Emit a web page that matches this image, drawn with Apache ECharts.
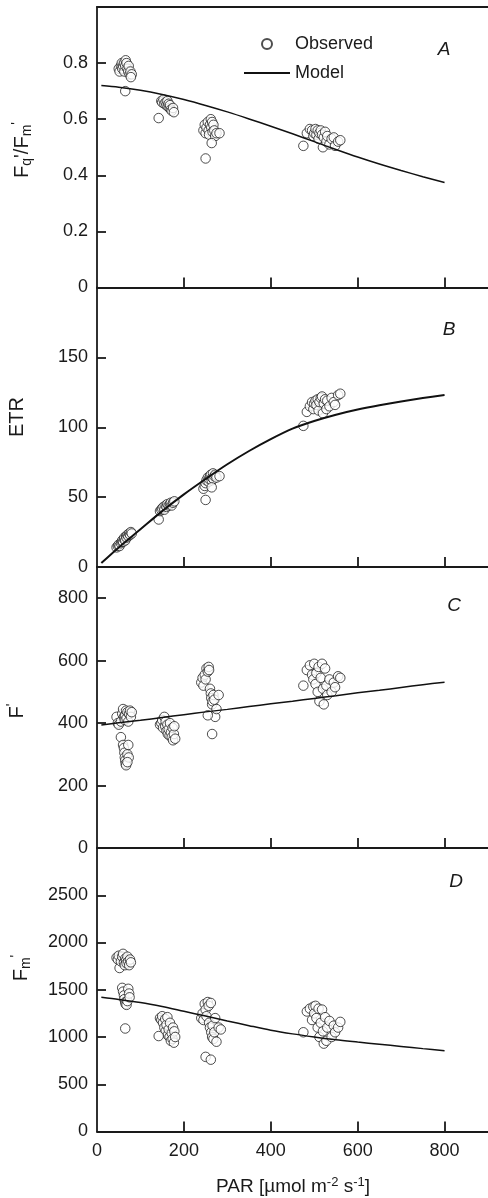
<!DOCTYPE html>
<html><head><meta charset="utf-8">
<script src="https://cdn.jsdelivr.net/npm/echarts@6/dist/echarts.min.js"></script>
<style>html,body{margin:0;padding:0;background:#fff}#c{width:488px;height:1198px}</style>
</head><body><div id="c"></div>
<script>
// ---------- data ----------
const parTickLabels = [0, 200, 400, 600, 800];
const parTicks = [200, 400, 600, 800];

const yLabelsA = [0, 0.2, 0.4, 0.6, 0.8];
const yLabelsB = [0, 50, 100, 150];
const yLabelsC = [0, 200, 400, 600, 800];
const yLabelsD = [0, 500, 1000, 1500, 2000, 2500];

const modelPar = [10, 50, 100, 150, 200, 250, 300, 350, 400, 450, 500, 550, 600, 650, 700, 750, 800];
const modelA = [0.72, 0.714, 0.703, 0.688, 0.67, 0.649, 0.626, 0.601, 0.575, 0.548, 0.52, 0.492, 0.465, 0.44, 0.417, 0.395, 0.374];
const modelB = [2.8, 14, 27, 40, 52, 63, 73.5, 83, 91.5, 99, 104.5, 109, 112.7, 115.8, 118.5, 120.9, 123];
const modelC = [394, 401, 409, 418, 427, 436, 444, 453, 462, 470, 479, 488, 497, 505, 514, 523, 531];
const modelD = [1420, 1398, 1365, 1322, 1272, 1222, 1170, 1120, 1072, 1033, 1000, 970, 946, 923, 900, 877, 855];

const obsA = [
  [50,0.78],[52,0.77],[55,0.79],[57,0.80],[58,0.78],[60,0.79],[62,0.80],[63,0.77],[65,0.79],[66,0.81],
  [68,0.80],[70,0.78],[72,0.77],[73,0.79],[75,0.76],[77,0.77],[80,0.76],[78,0.75],[65,0.70],
  [148,0.665],[150,0.66],[153,0.67],[155,0.655],[158,0.66],[160,0.65],[162,0.665],[163,0.645],[165,0.655],
  [167,0.64],[168,0.65],[170,0.635],[172,0.63],[175,0.64],[177,0.625],[142,0.604],
  [245,0.56],[248,0.58],[250,0.55],[252,0.57],[255,0.59],[257,0.56],[258,0.545],[260,0.58],[262,0.60],
  [263,0.57],[265,0.59],[266,0.555],[268,0.58],[270,0.56],[272,0.54],[275,0.55],[282,0.55],[264,0.515],[250,0.46],
  [475,0.505],[483,0.55],[490,0.565],[495,0.56],[498,0.54],[500,0.55],[503,0.565],[505,0.545],[508,0.56],
  [510,0.53],[512,0.55],[515,0.56],[518,0.545],[520,0.50],[522,0.535],[525,0.555],[528,0.52],[530,0.54],
  [535,0.51],[540,0.53],[545,0.535],[548,0.505],[555,0.52],[560,0.525]
];
const obsB = [
  [45,14],[48,15],[50,16],[52,15],[55,17],[57,18],[58,19],[60,18],[62,20],[63,21],[65,19],[67,22],
  [68,21],[70,23],[72,22],[74,24],[76,23],[78,25],[80,24],
  [142,34],[145,40],[148,41],[150,42],[153,43],[155,41],[158,44],[160,43],[162,45],[165,44],[168,45],
  [170,46],[172,44],[175,46],[178,47],
  [245,56],[248,58],[250,60],[252,62],[255,64],[257,61],[258,63],[260,65],[262,66],[264,62],[265,64],
  [267,67],[268,63],[270,65],[272,66],[275,64],[282,65],[264,57],[250,48],
  [475,101],[483,111],[490,115],[495,118],[498,113],[500,117],[503,119],[505,116],[508,120],[510,112],
  [512,118],[515,121],[518,122],[520,110],[522,117],[525,120],[528,113],[530,119],[535,115],[540,121],
  [545,118],[548,116],[555,123],[560,124]
];
const obsC = [
  [45,420],[48,400],[50,395],[55,405],[58,430],[60,445],[62,420],[64,410],[65,425],[67,440],[68,415],
  [70,435],[72,405],[74,430],[76,440],[78,420],[80,435],
  [55,355],[60,330],[62,320],[63,305],[64,290],[65,280],[66,270],[67,265],[70,300],[72,330],[73,290],[70,275],
  [145,395],[148,400],[150,410],[152,385],[155,420],[157,390],[158,405],[160,375],[162,395],[163,365],
  [165,380],[167,360],[168,400],[170,370],[172,355],[174,385],[175,345],[177,365],[178,390],[180,350],
  [240,530],[243,545],[245,520],[248,555],[250,540],[252,575],[255,565],[257,580],[258,570],[260,510],
  [262,495],[263,480],[265,460],[266,470],[268,490],[270,475],[272,420],[255,425],[275,445],[280,490],[265,365],
  [475,520],[483,570],[490,585],[495,555],[498,540],[500,590],[503,525],[505,560],[508,500],[510,580],
  [512,470],[515,545],[518,590],[520,510],[522,460],[525,575],[528,520],[530,490],[535,540],[540,500],
  [545,530],[548,515],[555,550],[560,545]
];
const obsD = [
  [45,1840],[48,1820],[50,1860],[52,1730],[55,1800],[58,1850],[60,1880],[62,1790],[64,1760],[65,1830],
  [67,1810],[68,1780],[70,1850],[72,1800],[74,1760],[76,1820],[78,1790],
  [58,1520],[60,1480],[62,1440],[63,1400],[65,1370],[66,1350],[68,1340],[70,1380],[72,1510],[74,1460],[75,1420],[65,1090],
  [145,1200],[148,1180],[150,1220],[152,1150],[155,1100],[157,1190],[158,1060],[160,1130],[162,1210],[163,1020],
  [165,1080],[167,1000],[168,1150],[170,960],[172,1040],[174,980],[175,1100],[177,940],[178,1060],[180,1000],[142,1010],
  [240,1200],[243,1250],[245,1180],[248,1350],[250,1290],[252,1220],[255,1370],[257,1330],[258,1150],[260,1100],
  [262,1360],[263,1050],[265,1000],[266,1120],[268,980],[270,1050],[272,1200],[275,950],[280,1100],[285,1080],
  [250,790],[262,760],
  [475,1050],[483,1270],[490,1300],[495,1180],[498,1320],[500,1250],[503,1330],[505,1200],[508,1100],[510,1300],
  [512,1000],[515,1150],[518,1290],[520,1060],[522,930],[525,1210],[528,960],[530,1100],[535,1170],[540,1000],
  [545,1120],[548,1050],[555,1100],[560,1160]
];

// ---------- chart ----------
const FF = '"Liberation Sans", Arial, Helvetica, sans-serif';
const C = '#1a1a1a';
const chart = echarts.init(document.getElementById('c'), null, {renderer: 'canvas'});

const panels = [
  {top: 7, height: 280.5, max: 1, labels: yLabelsA, obs: obsA, model: modelA, fmt: v => v === 0 ? '0' : v.toFixed(1), lw: 1.5},
  {top: 287.5, height: 279.5, max: 200, labels: yLabelsB, obs: obsB, model: modelB, fmt: v => String(v), lw: 2},
  {top: 567, height: 281, max: 900, labels: yLabelsC, obs: obsC, model: modelC, fmt: v => String(v), lw: 1.5},
  {top: 848, height: 283.5, max: 3000, labels: yLabelsD, obs: obsD, model: modelD, fmt: v => String(v), lw: 1.5}
];

const axisLine = {show: true, onZero: false, lineStyle: {color: C, width: 1.8}};
const grid = [], xAxis = [], yAxis = [], series = [];
panels.forEach((p, i) => {
  grid.push({left: 97, top: p.top, width: 395, height: p.height});
  xAxis.push({
    gridIndex: i, type: 'value', min: 0, max: 900, position: 'bottom',
    axisLine: axisLine,
    axisTick: {show: true, inside: true, length: 10, customValues: parTicks, lineStyle: {color: C, width: 1.8}},
    axisLabel: {show: i === 3, customValues: parTickLabels, margin: 11, fontSize: 18, color: C, fontFamily: FF},
    splitLine: {show: false}
  });
  yAxis.push({
    gridIndex: i, type: 'value', min: 0, max: p.max,
    axisLine: axisLine,
    axisTick: {show: true, inside: true, length: 9, customValues: p.labels.filter(v => v !== 0), lineStyle: {color: C, width: 1.8}},
    axisLabel: {customValues: p.labels, margin: 9, fontSize: 18, color: C, fontFamily: FF, formatter: p.fmt},
    splitLine: {show: false}
  });
  series.push({
    name: 'Observed', type: 'scatter', xAxisIndex: i, yAxisIndex: i,
    symbol: 'circle', symbolSize: 9.5,
    itemStyle: {color: '#fff', borderColor: '#222', borderWidth: 1},
    data: p.obs, z: 2, silent: true
  });
  series.push({
    name: 'Model', type: 'line', xAxisIndex: i, yAxisIndex: i,
    symbol: 'none', showSymbol: false, smooth: 0.3,
    lineStyle: {color: '#111', width: p.lw},
    itemStyle: {color: '#111'},
    data: modelPar.map((x, j) => [x, p.model[j]]), z: 3, silent: true
  });
});
// top border of first panel
xAxis.push({gridIndex: 0, type: 'value', min: 0, max: 900, position: 'top',
  axisLine: axisLine, axisTick: {show: false}, axisLabel: {show: false}, splitLine: {show: false}});

function makeRich(fs, ss) {
  return {
    b: {fontSize: fs, fontFamily: FF, color: C, lineHeight: fs + 4, verticalAlign: 'middle'},
    sub: {fontSize: ss, fontFamily: FF, color: C, lineHeight: ss - 1, verticalAlign: 'bottom'},
    sup: {fontSize: ss, fontFamily: FF, color: C, lineHeight: ss - 1, verticalAlign: 'top'}
  };
}
const richY = makeRich(20, 14);
const richX = makeRich(19, 13);
function rtext(txt, x, y, rot, rich) {
  return {type: 'text', x: x, y: y, rotation: rot || 0, silent: true,
    style: {text: txt, rich: rich, align: 'center', verticalAlign: 'middle', fontSize: 20, fontFamily: FF, fill: C}};
}
function letter(t, x, y) {
  return {type: 'text', x: x, y: y, silent: true,
    style: {text: t, align: 'center', verticalAlign: 'middle', fontSize: 19, fontStyle: 'italic', fontFamily: FF, fill: C}};
}

const R = Math.PI / 2;
chart.setOption({
  animation: false,
  backgroundColor: '#fff',
  grid: grid, xAxis: xAxis, yAxis: yAxis, series: series,
  legend: {
    show: true, orient: 'vertical', left: 238, top: 30,
    itemWidth: 46, itemHeight: 10, itemGap: 11,
    data: [
      {name: 'Observed', icon: 'circle'},
      {name: 'Model', itemStyle: {color: 'rgba(0,0,0,0)', borderColor: 'rgba(0,0,0,0)', borderWidth: 0}}
    ],
    textStyle: {fontSize: 18, color: C, fontFamily: FF},
    selectedMode: false
  },
  graphic: [
    rtext("{b|F}{sub|q}{b|'/F}{sub|m}{sup|'}", 22, 150, R, richY),
    rtext('{b|ETR}', 17, 417, R, richY),
    rtext("{b|F}{sup|'}", 17, 711, R, richY),
    rtext("{b|F}{sub|m}{sup|'}", 21, 968, R, richY),
    rtext('{b|PAR [µmol m}{sup|-2}{b| s}{sup|-1}{b|]}', 293, 1187, 0, richX),
    letter('A', 444, 50),
    letter('B', 449, 330),
    letter('C', 454, 606),
    letter('D', 456, 882)
  ]
});
</script>
</body></html>
